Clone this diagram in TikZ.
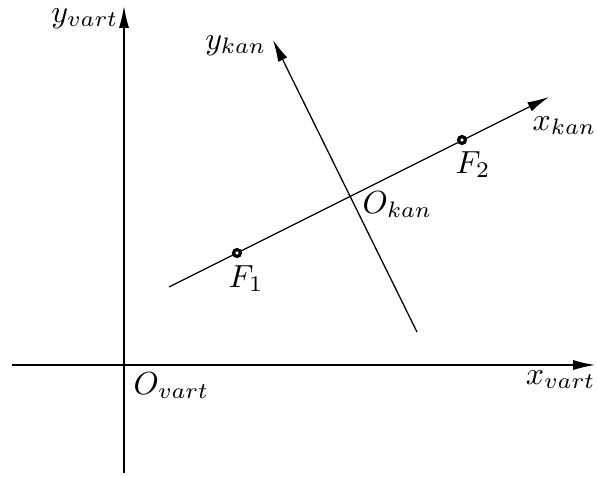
\documentclass[tikz,border=0pt]{standalone}
\usepackage{tikz}
\usetikzlibrary{arrows.meta}

\begin{document}
\begin{tikzpicture}[x=0.011cm, y=-0.011cm,
  axis/.style={-{Latex[length=2.4mm, width=1.1mm]}},
  focus/.style={circle, draw, line width=1pt, fill=white, inner sep=0pt, minimum size=0.75mm}]
\useasboundingbox (0,0) rectangle (597,476);
% vartotojo koordinates
\coordinate (xvs) at (12,365); \coordinate (xve) at (595,365);
\coordinate (yvs) at (124,473); \coordinate (yve) at (124,6);
\draw[axis] (xvs) -- (xve);
\draw[axis] (yvs) -- (yve);
\node[anchor=base east, inner sep=0pt] (ylab) at (119,22) {$y_{vart}$};
\node[anchor=base east, inner sep=0pt] (xlab) at (596,384) {$x_{vart}$};
\node[anchor=base west, inner sep=0pt] (Ovart) at (133,394) {$O_{vart}$};
% kanonines koordinates
\coordinate (xks) at (169,287); \coordinate (xke) at (549,97);
\coordinate (yks) at (417,332); \coordinate (yke) at (273,40);
\draw[axis] (xks) -- (xke);
\draw[axis] (yks) -- (yke);
\node[anchor=base east, inner sep=0pt] (yklab) at (267,49) {$y_{kan}$};
\node[anchor=base west, inner sep=0pt] (xklab) at (532,130) {$x_{kan}$};
\node[anchor=base west, inner sep=0pt] (Okan) at (362,213) {$O_{kan}$};
% zidiniai
\node[focus] (F1) at (237,253) {};
\node[focus] (F2) at (462,140) {};
\node[anchor=base west, inner sep=0pt] (F1lab) at (228,287) {$F_1$};
\node[anchor=base west, inner sep=0pt] (F2lab) at (455,173) {$F_2$};
\end{tikzpicture}
\end{document}
